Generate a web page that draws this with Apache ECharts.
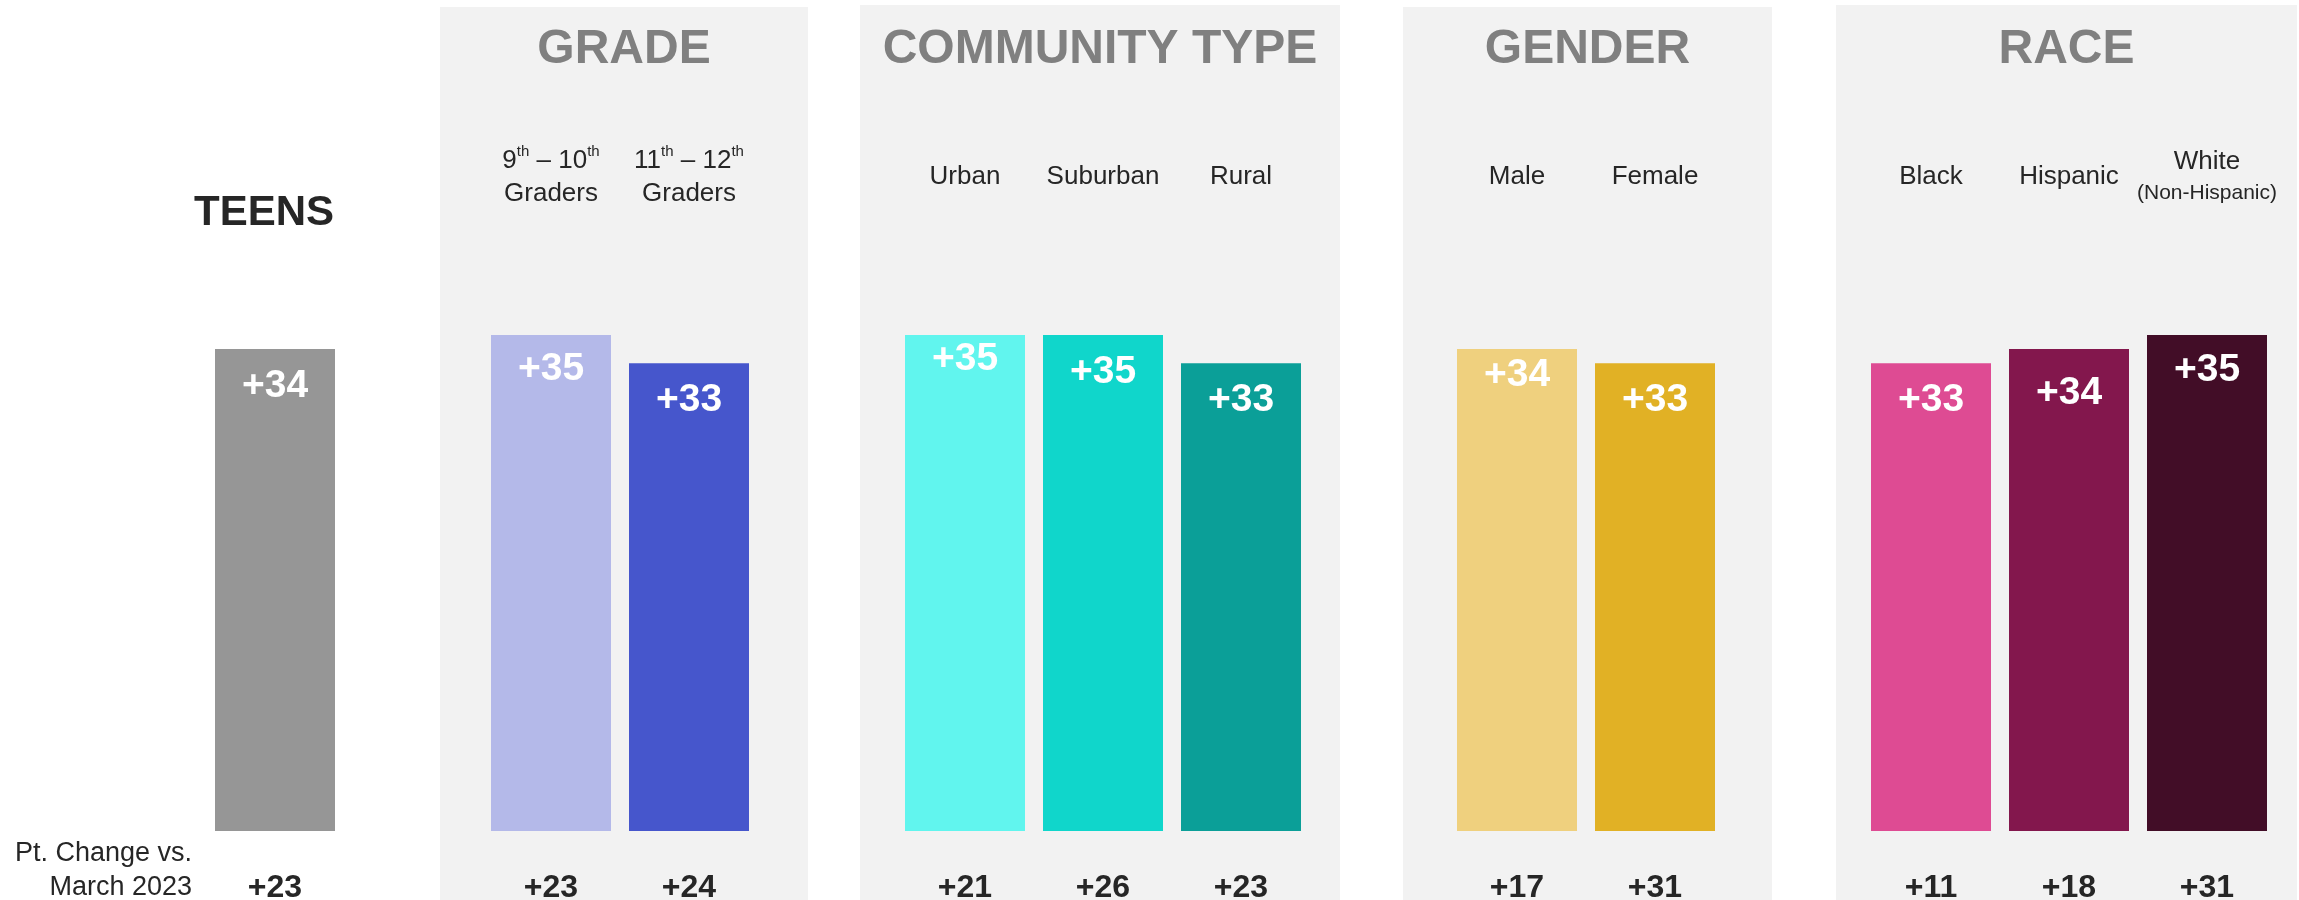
<!DOCTYPE html>
<html>
<head>
<meta charset="utf-8">
<script src="https://cdn.jsdelivr.net/npm/echarts@6/dist/echarts.min.js"></script>
<style>
  html, body { margin: 0; padding: 0; background: #fff; }
  #main { width: 2299px; height: 900px; }
</style>
</head>
<body>
<div id="main"></div>
<script>
// data
var teensCats = ['TEENS'];
var teensVals = [34];
var teensChange = [23];

var gradeCats = ['9{s|th} – 10{s|th}\nGraders', '11{s|th} – 12{s|th}\nGraders'];
var gradeVals = [35, 33];
var gradeChange = [23, 24];

var communityCats = ['Urban', 'Suburban', 'Rural'];
var communityVals = [35, 35, 33];
var communityChange = [21, 26, 23];

var genderCats = ['Male', 'Female'];
var genderVals = [34, 33];
var genderChange = [17, 31];

var raceCats = ['Black', 'Hispanic', 'White\n{small|(Non-Hispanic)}'];
var raceVals = [33, 34, 35];
var raceChange = [11, 18, 31];

var panelTitles = ['GRADE', 'COMMUNITY TYPE', 'GENDER', 'RACE'];

// styling
var FONT = 'Arial, "Liberation Sans", sans-serif';
var DARK = '#262626';
var slot = 138;
var gridTop = 264, gridBottom = 69;

var groups = [
  { cats: teensCats, vals: teensVals, change: teensChange, left: 206,
    colors: ['#969696'], nudge: [0] },
  { cats: gradeCats, vals: gradeVals, change: gradeChange, left: 482,
    colors: ['#b4b9e9', '#4656cc'], nudge: [-3, 0] },
  { cats: communityCats, vals: communityVals, change: communityChange, left: 896,
    colors: ['#61f5ee', '#10d6cb', '#0b9f98'], nudge: [-13, 0, 0] },
  { cats: genderCats, vals: genderVals, change: genderChange, left: 1448,
    colors: ['#efd07e', '#e1b125'], nudge: [-11, 0] },
  { cats: raceCats, vals: raceVals, change: raceChange, left: 1862,
    colors: ['#de4b93', '#83174d', '#420d27'], nudge: [0, 7, -2] }
];

var panels = [
  { x: 440, y: 7, w: 368 },
  { x: 860, y: 5, w: 480 },
  { x: 1403, y: 7, w: 369 },
  { x: 1836, y: 5, w: 461 }
];

var grid = [], xAxis = [], yAxis = [], series = [];

groups.forEach(function (g, i) {
  var isTeens = i === 0;
  grid.push({
    left: g.left, width: g.cats.length * slot, top: gridTop, bottom: gridBottom,
    outerBoundsMode: 'none', containLabel: false
  });

  xAxis.push({
    type: 'category', gridIndex: i, position: 'top', data: g.cats,
    axisLine: { show: false }, axisTick: { show: false },
    axisLabel: isTeens ? {
      interval: 0, margin: 51, verticalAlign: 'middle', color: DARK,
      fontSize: 42, fontWeight: 'bold', fontFamily: FONT,
      padding: [0, 22, 0, 0]
    } : {
      interval: 0, margin: 87, verticalAlign: 'middle', color: DARK,
      fontSize: 26, fontFamily: FONT, lineHeight: 33,
      rich: {
        s: { fontSize: 15, fontFamily: FONT, color: DARK, verticalAlign: 'top', lineHeight: 22 },
        small: { fontSize: 21, fontFamily: FONT, color: DARK, lineHeight: 30 }
      }
    }
  });

  xAxis.push({
    type: 'category', gridIndex: i, position: 'bottom',
    data: g.change.map(function (v) { return '+' + v; }),
    axisLine: { show: false }, axisTick: { show: false },
    axisLabel: {
      interval: 0, margin: 57, verticalAlign: 'middle', color: DARK,
      fontSize: 32, fontWeight: 'bold', fontFamily: FONT
    }
  });

  yAxis.push({ type: 'value', gridIndex: i, min: 0, max: 40, show: false });

  series.push({
    type: 'bar',
    xAxisIndex: i * 2,
    yAxisIndex: i,
    barWidth: 120,
    data: g.vals.map(function (v, k) {
      return {
        value: v,
        itemStyle: { color: g.colors[k] },
        label: { offset: [0, g.nudge[k]] }
      };
    }),
    label: {
      show: true, position: 'insideTop', distance: 18,
      color: '#fff', fontSize: 39, fontWeight: 'bold', fontFamily: FONT,
      formatter: function (p) { return '+' + p.value; }
    },
    silent: true
  });
});

var graphic = [];
panels.forEach(function (p, i) {
  graphic.push({
    type: 'rect', z: -10, silent: true,
    shape: { x: p.x, y: p.y, width: p.w, height: 900 - p.y },
    style: { fill: '#f2f2f2' }
  });
  graphic.push({
    type: 'text', z: -5, silent: true,
    x: p.x + p.w / 2, y: 50,
    style: {
      text: panelTitles[i], fill: '#808080', fontSize: 48, fontWeight: 'bold',
      fontFamily: FONT, align: 'center', verticalAlign: 'middle'
    }
  });
});
graphic.push({
  type: 'text', silent: true, x: 192, y: 854,
  style: { text: 'Pt. Change vs.', fill: DARK, fontSize: 27, fontFamily: FONT,
    align: 'right', verticalAlign: 'middle' }
});
graphic.push({
  type: 'text', silent: true, x: 192, y: 888,
  style: { text: 'March 2023', fill: DARK, fontSize: 27, fontFamily: FONT,
    align: 'right', verticalAlign: 'middle' }
});

var myChart = echarts.init(document.getElementById('main'));
myChart.setOption({
  animation: false,
  backgroundColor: '#fff',
  grid: grid,
  xAxis: xAxis,
  yAxis: yAxis,
  graphic: graphic,
  series: series
});
</script>
</body>
</html>
